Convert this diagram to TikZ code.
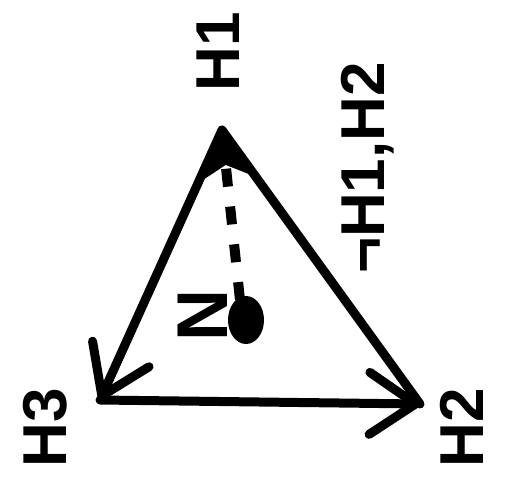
\documentclass[tikz,border=0pt]{standalone}
\usepackage{fontspec}
\setmainfont{Liberation Sans}
\usetikzlibrary{arrows.meta}
\begin{document}
\begin{tikzpicture}[x=1pt,y=-1pt,
  edge/.style={line width=9pt, line cap=round, line join=round},
  barb/.style={-{Straight Barb[length=46pt,width=62pt,line cap=round,line join=round]}},
  lbl/.style={font=\fontsize{62}{62}\selectfont\bfseries, rotate=90, inner sep=0pt}]
\useasboundingbox (0,0) rectangle (516,491);
\coordinate (A) at (222,130);
\coordinate (B) at (100,400);
\coordinate (C) at (420,404);
\coordinate (Z) at (240,300);
\draw[edge, barb] (A) -- (B);
\draw[edge, barb] (B) -- (C);
\draw[edge] (C) -- (A);
\draw[line width=10pt, dash pattern=on 18pt off 20pt, -{Stealth[length=52pt,width=66pt]}] (Z) -- (A);
\fill (246,320) ellipse [x radius=18pt, y radius=24pt];
\node[lbl] (h1) at (218,52) {H1};
\node[lbl] (nh) at (368,168) {¬H1,H2};
\node[lbl] (h3) at (45,428) {H3};
\node[lbl] (h2) at (462,428) {H2};
\node[rotate=90, inner sep=0pt, font=\fontsize{72}{72}\selectfont\bfseries] (n) at (203,315) {N};
\end{tikzpicture}
\end{document}
